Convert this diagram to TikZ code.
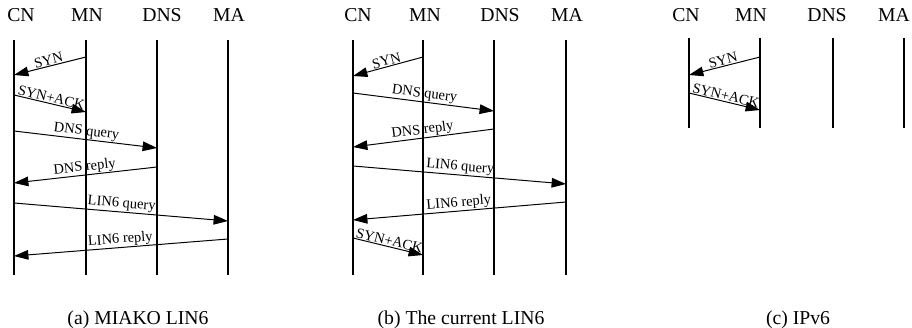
\documentclass[tikz,border=0pt]{standalone}
\usepackage{fontspec}
\setmainfont{Liberation Serif}
\usetikzlibrary{arrows.meta}
\tikzstyle{head} = [font = \fontsize{14}{16}\selectfont, inner sep = 0pt]
\tikzstyle{caption} = [font = \fontsize{14}{16}\selectfont, inner sep = 0pt]
\tikzstyle{life} = [line width = 1.4pt]
\tikzstyle{msg} = [line width = 0.7pt, -{Triangle[length = 3.6mm, width = 2.4mm]}]
\tikzstyle{lbl} = [font = \fontsize{10.3}{12}\selectfont, sloped, above, midway, inner sep = 0.5pt]

\begin{document}
\begin{tikzpicture}[x = 0.025cm, y = -0.025cm]
    \useasboundingbox (0,0) rectangle (912,328);

    % (a) MIAKO LIN6
    \node(cnA)[head] at (21,15){CN};
    \node(mnA)[head] at (87,15){MN};
    \node(dnsA)[head] at (162,15){DNS};
    \node(maA)[head] at (229,15){MA};
    \foreach \n/\x in {cnA/14, mnA/86, dnsA/157, maA/228}{
        \coordinate(\n t) at (\x,40);
        \coordinate(\n b) at (\x,275);
        \draw[life](\n t)--(\n b);
    }
    \foreach \n/\xa/\ya/\xb/\yb/\t in {a1/86/57/14/75/SYN, a2/14/95/86/112/SYN+ACK,
        a3/14/131/157/148/DNS query, a4/157/167/14/183/DNS reply,
        a5/14/203/228/221/LIN6 query, a6/228/239/14/256/LIN6 reply}{
        \coordinate(\n s) at (\xa,\ya);
        \coordinate(\n e) at (\xb,\yb);
        \draw[msg](\n s)--node[lbl]{\t}(\n e);
    }
    \node(capA)[caption] at (138,320){(a) MIAKO LIN6};

    % (b) The current LIN6
    \node(cnB)[head] at (358,15){CN};
    \node(mnB)[head] at (425,15){MN};
    \node(dnsB)[head] at (500,15){DNS};
    \node(maB)[head] at (567,15){MA};
    \foreach \n/\x in {cnB/353, mnB/423, dnsB/494, maB/566}{
        \coordinate(\n t) at (\x,40);
        \coordinate(\n b) at (\x,275);
        \draw[life](\n t)--(\n b);
    }
    \foreach \n/\xa/\ya/\xb/\yb/\t in {b1/423/57/353/76/SYN, b2/353/93/494/111/DNS query,
        b3/494/129/353/147/DNS reply, b4/353/166/566/184/LIN6 query,
        b5/566/202/353/220/LIN6 reply, b6/353/238/423/255/SYN+ACK}{
        \coordinate(\n s) at (\xa,\ya);
        \coordinate(\n e) at (\xb,\yb);
        \draw[msg](\n s)--node[lbl]{\t}(\n e);
    }
    \node(capB)[caption] at (461,320){(b) The current LIN6};

    % (c) IPv6
    \node(cnC)[head] at (686,15){CN};
    \node(mnC)[head] at (751,15){MN};
    \node(dnsC)[head] at (827,15){DNS};
    \node(maC)[head] at (894,15){MA};
    \foreach \n/\x in {cnC/689, mnC/760, dnsC/833, maC/904}{
        \coordinate(\n t) at (\x,38);
        \coordinate(\n b) at (\x,128);
        \draw[life](\n t)--(\n b);
    }
    \foreach \n/\xa/\ya/\xb/\yb/\t in {c1/760/57/689/75/SYN, c2/689/93/760/110/SYN+ACK}{
        \coordinate(\n s) at (\xa,\ya);
        \coordinate(\n e) at (\xb,\yb);
        \draw[msg](\n s)--node[lbl]{\t}(\n e);
    }
    \node(capC)[caption] at (798,320){(c) IPv6};
\end{tikzpicture}
\end{document}
